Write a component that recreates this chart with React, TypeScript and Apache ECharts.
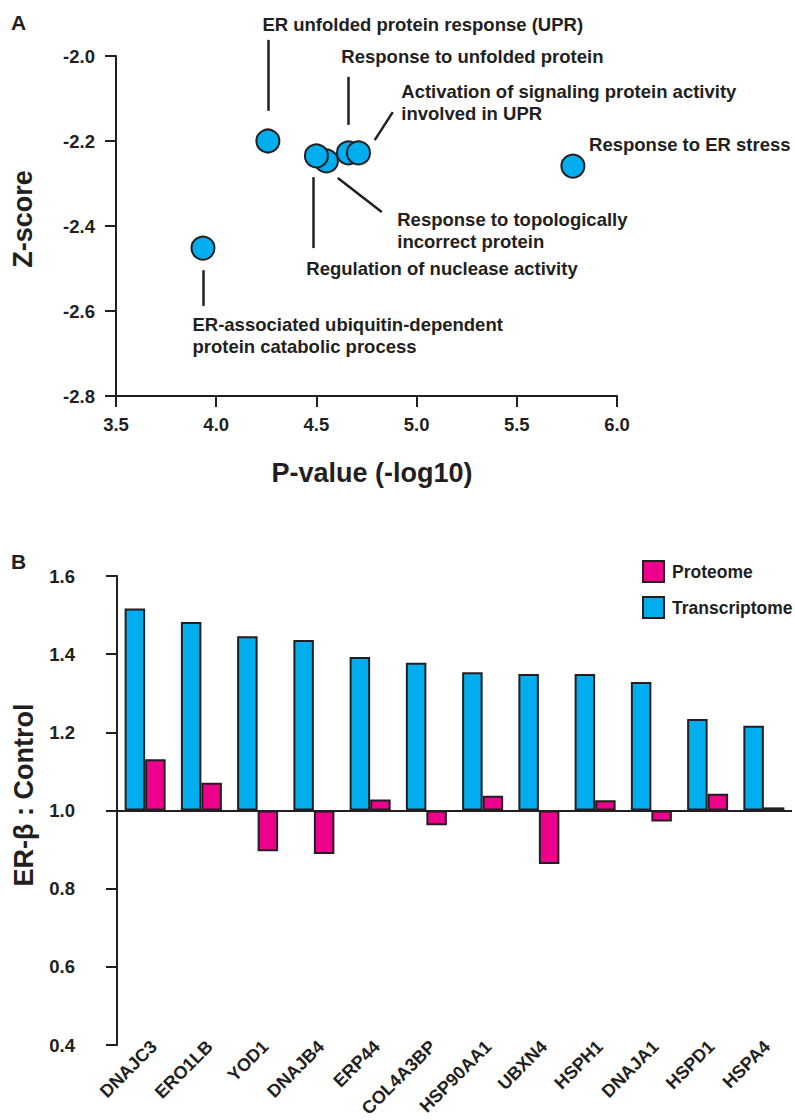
import React, { useEffect, useRef } from "react";
import * as echarts from "echarts";

const FONT = '"Liberation Sans", Arial, Helvetica, sans-serif';
const INK = "#231f20";
const BLUE = "#00aeef";
const PINK = "#ec008c";

// ---------- Panel A data ----------
const pValues = [3.934, 4.258, 4.55, 4.5, 4.66, 4.71, 5.78];
const zScores = [-2.452, -2.2, -2.247, -2.235, -2.228, -2.228, -2.259];

const annotationTexts = [
  "ER unfolded protein response (UPR)",
  "Response to unfolded protein",
  "Activation of signaling protein activity\ninvolved in UPR",
  "Response to ER stress",
  "Response to topologically\nincorrect protein",
  "Regulation of nuclease activity",
  "ER-associated ubiquitin-dependent\nprotein catabolic process",
];
const annotationX = [4.233, 4.627, 4.926, 5.863, 4.906, 4.452, 3.884];
const annotationY = [-1.901, -1.976, -2.059, -2.184, -2.36, -2.475, -2.607];
const leaderStartX = [4.258, 4.657, 4.881, 4.607, 4.482, 3.934];
const leaderStartY = [-1.962, -2.049, -2.132, -2.287, -2.285, -2.504];
const leaderEndX = [4.258, 4.657, 4.791, 4.826, 4.482, 3.934];
const leaderEndY = [-2.129, -2.162, -2.198, -2.367, -2.452, -2.588];

// ---------- Panel B data ----------
const genes = [
  "DNAJC3", "ERO1LB", "YOD1", "DNAJB4", "ERP44", "COL4A3BP",
  "HSP90AA1", "UBXN4", "HSPH1", "DNAJA1", "HSPD1", "HSPA4",
];
const transcriptome = [1.517, 1.482, 1.446, 1.436, 1.393, 1.378, 1.354, 1.349, 1.349, 1.329, 1.234, 1.217];
const proteome = [1.131, 1.071, 0.896, 0.889, 1.028, 0.962, 1.038, 0.863, 1.026, 0.972, 1.043, 1.008];
const ratioBaseline = 1.0;

const tickLabel = (size: number, margin: number) => ({
  color: INK,
  fontFamily: FONT,
  fontWeight: "bold" as const,
  fontSize: size,
  margin,
});

export default function App() {
  const ref = useRef<HTMLDivElement>(null);
  useEffect(() => {
    if (!ref.current) return;
    const chart = echarts.init(ref.current, undefined, { renderer: "svg" });
    const axisLine = { show: true, lineStyle: { color: INK, width: 2 } };
    const axisTick = { show: true, length: 11, lineStyle: { color: INK, width: 2 } };

    chart.setOption({
      animation: false,
      backgroundColor: "#ffffff",
      grid: [
        { left: 116, top: 56, width: 501, height: 340 },
        { left: 117, top: 576, width: 675, height: 469 },
        { left: 126, top: 576, width: 675, height: 469 },
      ],
      xAxis: [
        {
          gridIndex: 0,
          type: "value",
          min: 3.5,
          max: 6.0,
          interval: 0.5,
          axisLine,
          axisTick,
          splitLine: { show: false },
          axisLabel: { ...tickLabel(18.5, 19), formatter: (v: number) => v.toFixed(1) },
        },
        {
          gridIndex: 1,
          type: "category",
          data: genes,
          axisLine: { show: false, onZero: false },
          axisTick: { show: false },
          axisLabel: { show: false },
        },
        {
          gridIndex: 2,
          type: "category",
          data: genes,
          axisLine: { show: false, onZero: false },
          axisTick: { show: false },
          axisLabel: { ...tickLabel(18, 5), rotate: 45, interval: 0 },
        },
      ],
      yAxis: [
        {
          gridIndex: 0,
          type: "value",
          min: -2.8,
          max: -2.0,
          interval: 0.2,
          axisLine,
          axisTick,
          splitLine: { show: false },
          axisLabel: { ...tickLabel(18.5, 21), formatter: (v: number) => v.toFixed(1) },
        },
        {
          gridIndex: 1,
          type: "value",
          min: -0.6,
          max: 0.6,
          interval: 0.2,
          axisLine,
          axisTick,
          splitLine: { show: false },
          axisLabel: {
            ...tickLabel(18.5, 42),
            formatter: (v: number) => (v + ratioBaseline).toFixed(1),
          },
        },
        {
          gridIndex: 2,
          type: "value",
          min: 0,
          max: 1,
          show: false,
        },
      ],
      legend: {
        orient: "vertical",
        left: 637,
        top: 555,
        itemWidth: 21,
        itemHeight: 21,
        itemGap: 13,
        icon: "rect",
        data: ["Proteome", "Transcriptome"],
        textStyle: { color: INK, fontFamily: FONT, fontWeight: "bold", fontSize: 17.5, padding: [0, 0, 0, 3] },
        itemStyle: { borderColor: INK, borderWidth: 2 },
      },
      series: [
        {
          name: "leaders",
          type: "lines",
          coordinateSystem: "cartesian2d",
          xAxisIndex: 0,
          yAxisIndex: 0,
          clip: false,
          silent: true,
          symbol: ["none", "none"],
          lineStyle: { color: INK, width: 2.5, opacity: 1 },
          data: leaderStartX.map((x, i) => ({
            coords: [
              [x, leaderStartY[i]],
              [leaderEndX[i], leaderEndY[i]],
            ],
          })),
        },
        {
          name: "terms",
          type: "scatter",
          xAxisIndex: 0,
          yAxisIndex: 0,
          symbolSize: 23,
          itemStyle: { color: BLUE, borderColor: INK, borderWidth: 2, opacity: 1 },
          data: pValues.map((p, i) => [p, zScores[i]]),
        },
        {
          name: "annotations",
          type: "scatter",
          xAxisIndex: 0,
          yAxisIndex: 0,
          clip: false,
          silent: true,
          symbol: "rect",
          symbolSize: 1,
          itemStyle: { color: "rgba(0,0,0,0)", opacity: 1 },
          label: {
            show: true,
            position: [0, 0],
            align: "left",
            verticalAlign: "top",
            color: INK,
            opacity: 1,
            fontFamily: FONT,
            fontWeight: "bold",
            fontSize: 18.5,
            lineHeight: 22,
            formatter: (p: any) => annotationTexts[p.dataIndex],
          },
          data: annotationX.map((x, i) => [x, annotationY[i]]),
        },
        {
          name: "Transcriptome",
          type: "bar",
          xAxisIndex: 1,
          yAxisIndex: 1,
          barWidth: 20.5,
          barGap: "0%",
          itemStyle: { color: BLUE, borderColor: INK, borderWidth: 2 },
          data: transcriptome.map((v) => +(v - ratioBaseline).toFixed(4)),
          markLine: {
            silent: true,
            symbol: ["none", "none"],
            label: { show: false },
            lineStyle: { color: INK, width: 2, type: "solid" },
            data: [{ yAxis: 0 }],
          },
        },
        {
          name: "Proteome",
          type: "bar",
          xAxisIndex: 1,
          yAxisIndex: 1,
          barWidth: 20.5,
          barGap: "0%",
          itemStyle: { color: PINK, borderColor: INK, borderWidth: 2 },
          data: proteome.map((v) => +(v - ratioBaseline).toFixed(4)),
        },
      ],
      graphic: [
        {
          type: "text",
          x: 11,
          y: 22,
          style: { text: "A", fill: INK, fontFamily: FONT, fontWeight: "bold", fontSize: 21, align: "left", verticalAlign: "middle" },
        },
        {
          type: "text",
          x: 23,
          y: 219,
          rotation: Math.PI / 2,
          style: { text: "Z-score", fill: INK, fontFamily: FONT, fontWeight: "bold", fontSize: 27, align: "center", verticalAlign: "middle" },
        },
        {
          type: "text",
          x: 372,
          y: 473,
          style: { text: "P-value (-log10)", fill: INK, fontFamily: FONT, fontWeight: "bold", fontSize: 27, align: "center", verticalAlign: "middle" },
        },
        {
          type: "text",
          x: 11,
          y: 561,
          style: { text: "B", fill: INK, fontFamily: FONT, fontWeight: "bold", fontSize: 21, align: "left", verticalAlign: "middle" },
        },
        {
          type: "text",
          x: 24,
          y: 795,
          rotation: Math.PI / 2,
          style: { text: "ER-β : Control", fill: INK, fontFamily: FONT, fontWeight: "bold", fontSize: 27, align: "center", verticalAlign: "middle" },
        },
      ],
    });
    return () => chart.dispose();
  }, []);

  return (
    <div
      ref={ref}
      style={{ position: "absolute", left: 0, top: 0, width: 795, height: 1120, background: "#fff" }}
    />
  );
}
